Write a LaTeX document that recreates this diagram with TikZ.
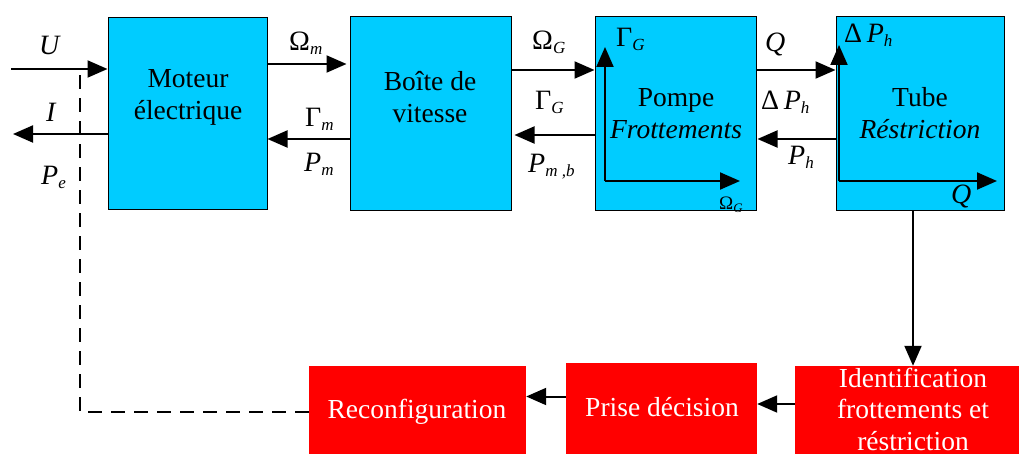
\documentclass[tikz,border=0pt]{standalone}
\usepackage{fontspec}
\setmainfont{Liberation Serif}
\usetikzlibrary{arrows.meta}
\definecolor{bluebox}{RGB}{0,204,255}
\definecolor{redbox}{RGB}{255,0,0}
\newcommand\sbx[1]{\raisebox{-4pt}{\fontsize{17}{17}\selectfont\itshape #1}}
\begin{document}
\begin{tikzpicture}[x=1pt,y=-1pt,
  bbox/.style={draw=black,line width=1pt,fill=bluebox,inner sep=0pt,minimum height=194pt},
  rbox/.style={fill=redbox,inner sep=0pt},
  btxt/.style={align=center,inner sep=0pt,font=\fontsize{27.5}{32}\selectfont},
  rtxt/.style={align=center,inner sep=0pt,text=white,font=\fontsize{27.5}{31.5}\selectfont},
  arr/.style={line width=2pt,-{Triangle[length=20pt,width=17pt]}},
  lbl/.style={inner sep=0pt,anchor=base west,font=\fontsize{28}{28}\selectfont}]
\clip (0,0) rectangle (1019,454);
% blue boxes
\node[bbox,minimum width=159pt,minimum height=192pt] (mot) at (187.5,114) {};
\node[bbox,minimum width=161pt] (boi) at (430.5,114) {};
\node[bbox,minimum width=161pt] (pom) at (675.5,114) {};
\node[bbox,minimum width=168pt] (tub) at (920,114) {};
\node[btxt] (tmot) at (188,97) {Moteur\\électrique};
\node[btxt] (tboi) at (430,97) {Boîte de\\vitesse};
\node[btxt] (tpom) at (676,114) {Pompe\\\textit{Frottements}};
\node[btxt] (ttub) at (920,113) {Tube\\\textit{Réstriction}};
% red boxes
\node[rbox,minimum width=236pt,minimum height=100pt] (idn) at (913,416) {};
\node[rbox,minimum width=191pt,minimum height=91pt] (prs) at (661.5,408.5) {};
\node[rbox,minimum width=217pt,minimum height=88pt] (rec) at (417.5,410) {};
\node[rtxt] (tidn) at (913,409) {Identification\\frottements et\\réstriction};
\node[rtxt] (tprs) at (662,407.5) {Prise décision};
\node[rtxt] (trec) at (417,411.5) {Reconfiguration};
% free ends
\coordinate (uin) at (11,69);
\coordinate (iout) at (13,134);
\coordinate (dA) at (80,412);
\coordinate (dB) at (80,70);
% connectors
\draw[arr] (uin) -- (uin -| mot.west);
\draw[arr] (mot.west |- iout) -- (iout);
\draw[arr] ([yshift=50pt]mot.east) -- ([yshift=50pt,xshift=-3pt]mot.east -| boi.west);
\draw[arr] ([yshift=-25pt]boi.west) -- ([yshift=-25pt]boi.west -| mot.east);
\draw[arr] ([yshift=44pt]boi.east) -- ([yshift=44pt]boi.east -| pom.west);
\draw[arr] ([yshift=-21pt]pom.west) -- ([yshift=-21pt,xshift=3pt]pom.west -| boi.east);
\draw[arr] ([yshift=44pt]pom.east) -- ([yshift=44pt]pom.east -| tub.west);
\draw[arr] ([yshift=-25pt]tub.west) -- ([yshift=-25pt,xshift=1pt]tub.west -| pom.east);
\draw[arr] ([xshift=-7pt]tub.south) -- ([xshift=-7pt]tub.south |- idn.north);
\draw[arr] ([yshift=12pt]idn.west) -- ([yshift=12pt]idn.west -| prs.east);
\draw[arr] ([yshift=12pt]prs.west) -- ([yshift=12pt]prs.west -| rec.east);
\draw[line width=2pt,dash pattern=on 14pt off 9pt] ([yshift=-2pt]rec.west) -- (dA) -- (dB);
% inner axes
\coordinate (po) at (605,181);
\coordinate (poy) at (605,47);
\coordinate (pox) at (740,181);
\draw[arr] (po) -- (poy);
\draw[arr] (po) -- (pox);
\coordinate (to) at (839,181);
\coordinate (toy) at (839,45);
\coordinate (tox) at (997,181);
\draw[arr] (to) -- (toy);
\draw[arr] (to) -- (tox);
% labels
\node[lbl] (lU) at (39,55) {\textit{U}};
\node[lbl] (lI) at (46,122) {\textit{I}};
\node[lbl] (lPe) at (41,185) {\textit{P}\sbx{e}};
\node[lbl] (lOm) at (289,51) {Ω\sbx{m}};
\node[lbl] (lGm) at (305,127) {Γ\sbx{m}};
\node[lbl] (lPm) at (304,172) {\textit{P}\sbx{m}};
\node[lbl] (lOG) at (532,50) {Ω\sbx{G}};
\node[lbl] (lGG) at (535,110) {Γ\sbx{G}};
\node[lbl] (lPmb) at (528,173) {\textit{P}\sbx{m ,b}};
\node[lbl] (lGGi) at (616,47) {Γ\sbx{G}};
\node[lbl,font=\fontsize{19}{19}\selectfont] (lOGi) at (719,210) {Ω\raisebox{-3pt}{\fontsize{13}{13}\selectfont\itshape G}};
\node[lbl] (lQ) at (765,52) {\textit{Q}};
\node[lbl] (lDP) at (761,110) {Δ\,\textit{P}\sbx{h}};
\node[lbl] (lPh) at (788,165) {\textit{P}\sbx{h}};
\node[lbl] (lDPi) at (844,43) {Δ\,\textit{P}\sbx{h}};
\node[lbl] (lQi) at (951,204) {\textit{Q}};
\end{tikzpicture}
\end{document}
